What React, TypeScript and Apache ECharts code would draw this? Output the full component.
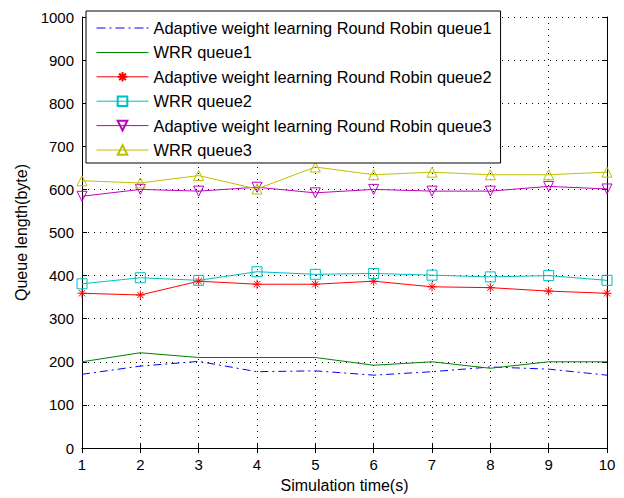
import React, { useEffect, useRef } from "react";
import * as echarts from "echarts";

const times = [1, 2, 3, 4, 5, 6, 7, 8, 9, 10];
const awlrrQueue1 = [171, 190, 201, 177, 179, 169, 177, 188, 183, 169];
const wrrQueue1 = [200, 221, 210, 210, 210, 192, 200, 185, 200, 200];
const awlrrQueue2 = [359, 355, 387, 380, 380, 387, 374, 372, 364, 359];
const wrrQueue2 = [381, 395, 389, 409, 403, 405, 401, 397, 400, 389];
const awlrrQueue3 = [584, 600, 596, 605, 592, 600, 596, 596, 607, 601];
const wrrQueue3 = [620, 615, 632, 601, 652, 634, 640, 634, 634, 640];

const seriesNames = [
  "Adaptive weight learning Round Robin queue1",
  "WRR queue1",
  "Adaptive weight learning Round Robin queue2",
  "WRR queue2",
  "Adaptive weight learning Round Robin queue3",
  "WRR queue3",
];
const seriesColors = ["#0000ff", "#008000", "#ff0000", "#00bfbf", "#bf00bf", "#bfbf00"];

const FONT = "Liberation Sans, Arial, sans-serif";
const ASTERISK = "path://M5,0L5,10M0,5L10,5M1.5,1.5L8.5,8.5M1.5,8.5L8.5,1.5";
const ICON_SOLID = "path://M0,0L52,0L52,1L0,1Z";
const ICON_DASHDOT =
  "path://M0,0h9v1h-9zM13,0h2v1h-2zM19,0h9v1h-9zM32,0h2v1h-2zM38,0h9v1h-9zM50,0h2v1h-2z";

function pairs(vals: number[]) {
  return times.map((t, i) => [t, vals[i]]);
}

export default function App() {
  const ref = useRef<HTMLDivElement>(null);
  useEffect(() => {
    if (!ref.current) return;
    const chart = echarts.init(ref.current, null, { renderer: "svg" });
    const mk = (
      name: string,
      vals: number[],
      color: string,
      symbol: string,
      symbolSize: number,
      extra: any = {}
    ) => ({
      name,
      type: "line",
      data: pairs(vals),
      symbol,
      symbolSize,
      showSymbol: symbol !== "none",
      lineStyle: { color, width: 1, type: extra.lineType || "solid" },
      itemStyle: { color: "none", borderColor: color, borderWidth: 1 },
      symbolRotate: extra.rotate || 0,
      emphasis: { disabled: true },
      z: 3,
    });
    const axisCommon = {
      axisLine: { show: true, lineStyle: { color: "#000", width: 1 } },
      axisTick: { show: true, inside: true, length: 5, lineStyle: { color: "#000" } },
    };
    chart.setOption({
      animation: false,
      backgroundColor: "#fff",
      grid: { left: 82, right: 17, top: 17, bottom: 49, containLabel: false },
      legend: {
        orient: "vertical",
        left: 86,
        top: 11,
        width: 418,
        padding: [9, 9, 5, 10],
        itemWidth: 52,
        itemHeight: 12,
        itemGap: 8.4,
        backgroundColor: "#fff",
        borderColor: "#000",
        borderWidth: 1,
        borderRadius: 0,
        textStyle: { fontFamily: FONT, fontSize: 16.4, color: "#000" },
        data: [
          { name: seriesNames[0], icon: ICON_DASHDOT, itemStyle: { color: seriesColors[0], borderWidth: 0 } },
          { name: seriesNames[1], icon: ICON_SOLID, itemStyle: { color: seriesColors[1], borderWidth: 0 } },
          { name: seriesNames[2], lineStyle: { width: 1, color: seriesColors[2] } },
          { name: seriesNames[3], lineStyle: { width: 1, color: seriesColors[3] } },
          { name: seriesNames[4], lineStyle: { width: 1, color: seriesColors[4] } },
          { name: seriesNames[5], lineStyle: { width: 1, color: seriesColors[5] } },
        ],
        z: 10,
      },
      xAxis: [
        {
          type: "value",
          min: 1,
          max: 10,
          interval: 1,
          position: "bottom",
          ...axisCommon,
          axisLabel: { fontFamily: FONT, fontSize: 15, color: "#000", margin: 9 },
          splitLine: { show: true, lineStyle: { color: "#000", type: [1, 5], width: 1 } },
          name: "Simulation time(s)",
          nameLocation: "middle",
          nameGap: 29,
          nameTextStyle: { fontFamily: FONT, fontSize: 16, color: "#000" },
        },
        {
          type: "value",
          min: 1,
          max: 10,
          interval: 1,
          position: "top",
          ...axisCommon,
          axisLabel: { show: false },
          splitLine: { show: false },
        },
      ],
      yAxis: [
        {
          type: "value",
          min: 0,
          max: 1000,
          interval: 100,
          position: "left",
          ...axisCommon,
          axisLabel: {
            fontFamily: FONT,
            fontSize: 15,
            color: "#000",
            margin: 8,
            formatter: (v: number) => String(v),
          },
          splitLine: { show: true, lineStyle: { color: "#000", type: [1, 5], width: 1 } },
          name: "Queue length(byte)",
          nameLocation: "middle",
          nameGap: 53,
          nameTextStyle: { fontFamily: FONT, fontSize: 16, color: "#000" },
        },
        {
          type: "value",
          min: 0,
          max: 1000,
          interval: 100,
          position: "right",
          ...axisCommon,
          axisLabel: { show: false },
          splitLine: { show: false },
        },
      ],
      series: [
        mk(seriesNames[0], awlrrQueue1, seriesColors[0], "none", 0, { lineType: [8, 4, 2, 4] }),
        mk(seriesNames[1], wrrQueue1, seriesColors[1], "none", 0),
        mk(seriesNames[2], awlrrQueue2, seriesColors[2], ASTERISK, 9),
        mk(seriesNames[3], wrrQueue2, seriesColors[3], "rect", 10),
        mk(seriesNames[4], awlrrQueue3, seriesColors[4], "triangle", 10, { rotate: 180 }),
        mk(seriesNames[5], wrrQueue3, seriesColors[5], "triangle", 10),
      ],
    });
    return () => chart.dispose();
  }, []);
  return (
    <div
      ref={ref}
      style={{ position: "fixed", left: 0, top: 0, width: 624, height: 498, background: "#fff" }}
    />
  );
}
